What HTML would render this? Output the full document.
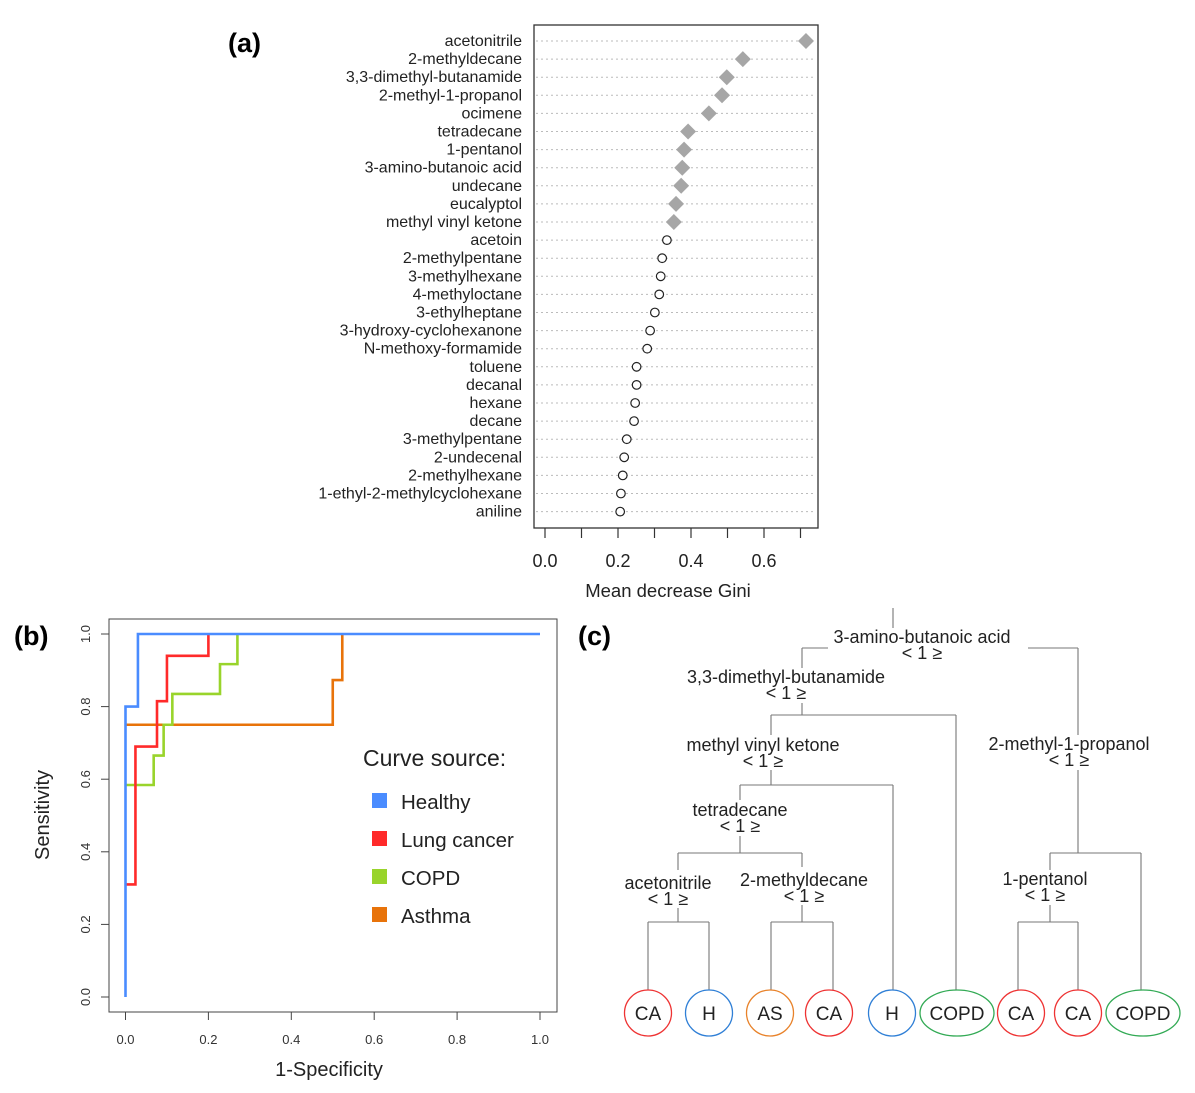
<!DOCTYPE html>
<html><head><meta charset="utf-8"><style>
html,body{margin:0;padding:0;background:#fff;}
svg{display:block;font-family:"Liberation Sans","DejaVu Sans",sans-serif;}
</style></head><body>
<svg id="fig" width="1195" height="1093" viewBox="0 0 1195 1093">
<text x="228" y="52" font-size="27" font-weight="bold">(a)</text>
<text x="14" y="645" font-size="27" font-weight="bold">(b)</text>
<text x="578" y="645" font-size="27" font-weight="bold">(c)</text>
<g id="pa"></g>
<g id="pb"></g>
<g id="pc"></g>
</svg>
<script>
const NS="http://www.w3.org/2000/svg";
function mk(p,t,a,txt){const e=document.createElementNS(NS,t);for(const k in a)e.setAttribute(k,a[k]);if(txt!==undefined)e.textContent=txt;p.appendChild(e);return e;}

// ---- Panel (a) data ----
const features=["acetonitrile","2-methyldecane","3,3-dimethyl-butanamide","2-methyl-1-propanol","ocimene","tetradecane","1-pentanol","3-amino-butanoic acid","undecane","eucalyptol","methyl vinyl ketone","acetoin","2-methylpentane","3-methylhexane","4-methyloctane","3-ethylheptane","3-hydroxy-cyclohexanone","N-methoxy-formamide","toluene","decanal","hexane","decane","3-methylpentane","2-undecenal","2-methylhexane","1-ethyl-2-methylcyclohexane","aniline"];
const giniValues=[0.715,0.542,0.498,0.485,0.449,0.392,0.381,0.376,0.373,0.359,0.353,0.334,0.321,0.317,0.313,0.301,0.288,0.280,0.251,0.251,0.247,0.244,0.224,0.217,0.213,0.208,0.206];
const selectedCount=11;
const giniTicks=[0,0.1,0.2,0.3,0.4,0.5,0.6,0.7];
const giniTickLabels=["0.0","","0.2","","0.4","","0.6",""];

const pa=document.getElementById('pa');
const ax=v=>545+v*365;
const ay=i=>41+i*18.1;
mk(pa,'rect',{x:534,y:25,width:284,height:503,fill:'none',stroke:'#333','stroke-width':1.3});
features.forEach((f,i)=>{
  const l=mk(pa,'line',{x1:536,x2:816,y1:ay(i),y2:ay(i),stroke:'#bbb','stroke-dasharray':'2,3','stroke-width':1});
  
  
  const t=mk(pa,'text',{x:522,y:ay(i)+5,'font-size':16,'text-anchor':'end',fill:'#222'},f);
  
  
  const x=ax(giniValues[i]),y=ay(i);
  let m;
  if(i<selectedCount){m=mk(pa,'polygon',{points:`${x},${y-8} ${x+8},${y} ${x},${y+8} ${x-8},${y}`,fill:'#a6a6a6'});}
  else{m=mk(pa,'circle',{cx:x,cy:y,r:4.3,fill:'#fff',stroke:'#222','stroke-width':1.2});}
  
  
});
giniTicks.forEach((v,i)=>{
  mk(pa,'line',{x1:ax(v),x2:ax(v),y1:528,y2:538,stroke:'#333','stroke-width':1.2});
  if(giniTickLabels[i]){const t=mk(pa,'text',{x:ax(v),y:567,'font-size':18,'text-anchor':'middle',fill:'#222'},giniTickLabels[i]);
  
  }
});
const gt=mk(pa,'text',{x:668,y:597,'font-size':18.5,'text-anchor':'middle',fill:'#222'},'Mean decrease Gini');



// ---- Panel (b) data ----
const rocNames=["Healthy","Lung cancer","COPD","Asthma"];
const rocColors=["#4a8cff","#ff2a2a","#99d42b","#e8730a"];
const healthyFPR=[0,0,0.03,0.03,1];
const healthyTPR=[0,0.80,0.80,1,1];
const lungFPR=[0,0.024,0.024,0.076,0.076,0.10,0.10,0.20,0.20];
const lungTPR=[0.31,0.31,0.69,0.69,0.815,0.815,0.94,0.94,1];
const copdFPR=[0,0.068,0.068,0.092,0.092,0.113,0.113,0.228,0.228,0.27,0.27];
const copdTPR=[0.584,0.584,0.665,0.665,0.75,0.75,0.835,0.835,0.917,0.917,1];
const asthmaFPR=[0,0.50,0.50,0.523,0.523];
const asthmaTPR=[0.75,0.75,0.873,0.873,1];
const rocTicks=[0,0.2,0.4,0.6,0.8,1.0];
const rocTickLabels=["0.0","0.2","0.4","0.6","0.8","1.0"];

const pb=document.getElementById('pb');
const bx=v=>125.5+v*414.5;
const by=v=>997-v*363;
mk(pb,'rect',{x:109,y:619,width:448,height:393,fill:'none',stroke:'#444','stroke-width':1});
rocTicks.forEach((v,i)=>{
  mk(pb,'line',{x1:bx(v),x2:bx(v),y1:1012,y2:1020,stroke:'#444'});
  const t=mk(pb,'text',{x:bx(v),y:1044,'font-size':13,'text-anchor':'middle',fill:'#333'},rocTickLabels[i]);
  
  
  mk(pb,'line',{x1:101,x2:109,y1:by(v),y2:by(v),stroke:'#444'});
  const u=mk(pb,'text',{x:90,y:by(v),'font-size':13,'text-anchor':'middle',fill:'#333',transform:`rotate(-90 90 ${by(v)})`},rocTickLabels[i]);
  
  
});
const xt=mk(pb,'text',{x:329,y:1076,'font-size':20,'text-anchor':'middle',fill:'#222'},'1-Specificity');


const yt=mk(pb,'text',{x:49,y:815,'font-size':20,'text-anchor':'middle',fill:'#222',transform:'rotate(-90 49 815)'},'Sensitivity');


const series=[[asthmaFPR,asthmaTPR,3],[copdFPR,copdTPR,2],[lungFPR,lungTPR,1],[healthyFPR,healthyTPR,0]];
series.forEach(([xs,ys,c])=>{
  const pts=xs.map((x,i)=>bx(x)+','+by(ys[i])).join(' ');
  const p=mk(pb,'polyline',{points:pts,fill:'none',stroke:rocColors[c],'stroke-width':2.6});
  
  
});
const lt=mk(pb,'text',{x:363,y:766,'font-size':23,fill:'#222'},'Curve source:');


rocNames.forEach((n,i)=>{
  const y=802+i*38;
  const g=mk(pb,'g',{});
  
  
  mk(g,'rect',{x:372,y:y-9,width:15,height:15,fill:rocColors[i]});
  mk(g,'text',{x:401,y:y+7,'font-size':20.5,fill:'#222'},n);
});

// ---- Panel (c) tree ----
const pc=document.getElementById('pc');
const lines=[[893,608,893,628],[802,648,828,648],[1028,648,1078,648],[802,648,802,668],[1078,648,1078,735],
[802,703,802,715],[771,715,956,715],[956,715,956,992],[771,715,771,735],
[771,770,771,785],[740,785,893,785],[893,785,893,990],[740,785,740,800],
[740,836,740,853],[678,853,802,853],[678,853,678,870],[802,853,802,867],
[678,908,678,922],[648,922,709,922],[648,922,648,990],[709,922,709,990],
[802,905,802,922],[771,922,833,922],[771,922,771,990],[833,922,833,990],
[1078,770,1078,853],[1050,853,1141,853],[1141,853,1141,990],[1050,853,1050,870],
[1050,905,1050,922],[1018,922,1078,922],[1018,922,1018,990],[1078,922,1078,990]];
lines.forEach(l=>{const e=mk(pc,'line',{x1:l[0],y1:l[1],x2:l[2],y2:l[3],stroke:'#777','stroke-width':1.1});

});
const nodes=[["3-amino-butanoic acid",922,643],["3,3-dimethyl-butanamide",786,683],["methyl vinyl ketone",763,751],["2-methyl-1-propanol",1069,750],["tetradecane",740,816],["acetonitrile",668,889],["2-methyldecane",804,886],["1-pentanol",1045,885]];
nodes.forEach(([n,x,y])=>{
  const g=mk(pc,'g',{});
  
  
  mk(g,'text',{x:x,y:y,'font-size':18,'text-anchor':'middle',fill:'#222'},n);
  mk(g,'text',{x:x,y:y+16,'font-size':18,'text-anchor':'middle',fill:'#222'},'< 1 ≥');
});
const leafCols={CA:'#ee3333',H:'#2f7fd6',AS:'#e8822a',COPD:'#33aa55'};
const leaves=[["CA",648],["H",709],["AS",770],["CA",829],["H",892],["COPD",957],["CA",1021],["CA",1078],["COPD",1143]];
leaves.forEach(([n,x])=>{
  const g=mk(pc,'g',{});
  
  
  const rx=n==='COPD'?37:23.5;
  mk(g,'ellipse',{cx:x,cy:1013,rx:rx,ry:23,fill:'#fff',stroke:leafCols[n],'stroke-width':1.3});
  mk(g,'text',{x:x,y:1020,'font-size':19,'text-anchor':'middle',fill:'#222'},n);
});
</script>
</body></html>
